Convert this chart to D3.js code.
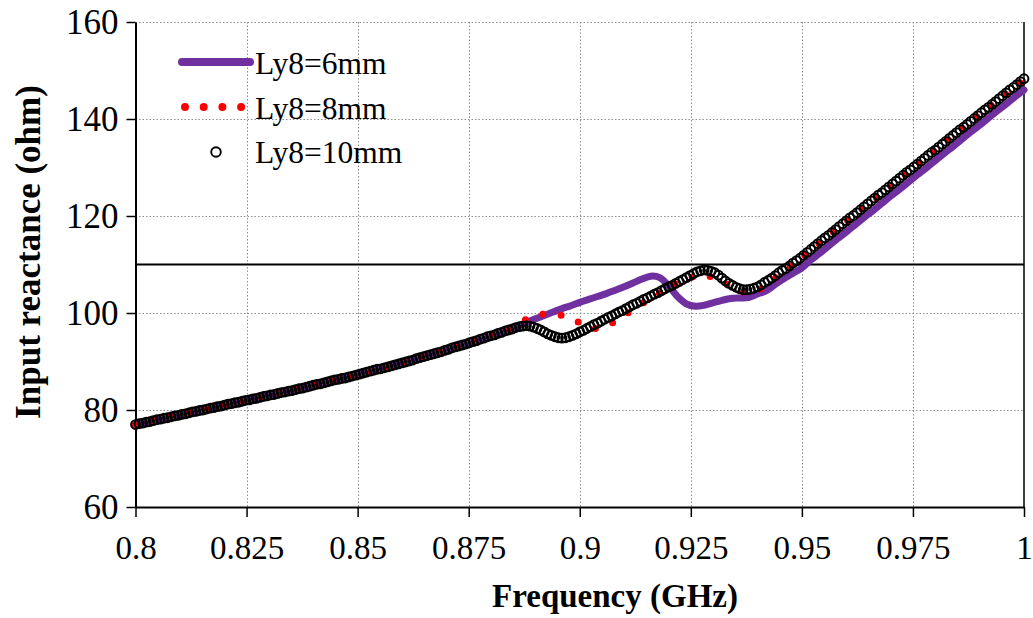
<!DOCTYPE html>
<html>
<head>
<meta charset="utf-8">
<script src="https://cdn.jsdelivr.net/npm/d3@7"></script>
<style>
  body { margin: 0; background: #fff; }
  svg { display: block; }
  text { font-family: "Liberation Serif", "Times New Roman", serif; fill: #000; }
</style>
</head>
<body>
<svg id="chart" width="1033" height="618"></svg>
<script>
// Axis ticks
const xTicks = [0.8, 0.825, 0.85, 0.875, 0.9, 0.925, 0.95, 0.975, 1];
const yTicks = [60, 80, 100, 120, 140, 160];
const refLevel = 110;   // horizontal reference line (ohm)
const seriesNames = ["Ly8=6mm", "Ly8=8mm", "Ly8=10mm"];

// Frequency sweeps (GHz)
const freq10 = d3.range(251).map(i => +(0.8 + i * 0.0008).toFixed(4));
const freq6 = d3.range(101).map(i => +(0.8 + i * 0.002).toFixed(3));
const freq8 = freq6;

// Ly8 = 10 mm, input reactance (ohm), 0.8 MHz step
const react10 = [
  77.0,77.2,77.3,77.5,77.6,77.8,78.0,78.1,78.3,78.4,
  78.6,78.8,78.9,79.1,79.2,79.4,79.6,79.7,79.9,80.0,
  80.2,80.4,80.5,80.7,80.8,81.0,81.2,81.3,81.5,81.6,
  81.8,82.0,82.1,82.3,82.4,82.6,82.8,82.9,83.1,83.2,
  83.4,83.6,83.7,83.9,84.0,84.2,84.4,84.5,84.7,84.9,
  85.1,85.3,85.4,85.6,85.8,86.0,86.2,86.3,86.5,86.6,
  86.8,87.0,87.2,87.4,87.6,87.8,88.0,88.2,88.4,88.5,
  88.7,88.9,89.1,89.3,89.5,89.7,89.9,90.1,90.3,90.6,
  90.8,91.0,91.2,91.4,91.6,91.8,92.0,92.3,92.5,92.8,
  93.0,93.2,93.4,93.6,93.9,94.1,94.3,94.6,94.8,95.1,
  95.3,95.5,95.8,96.0,96.3,96.5,96.7,97.0,97.2,97.3,
  97.4,97.3,97.1,96.8,96.5,96.1,95.7,95.4,95.1,94.9,
  94.8,94.9,95.1,95.4,95.7,96.1,96.4,96.8,97.2,97.6,
  97.9,98.3,98.7,99.1,99.4,99.8,100.2,100.5,100.9,101.3,
  101.7,102.0,102.4,102.8,103.1,103.5,103.9,104.2,104.6,105.0,
  105.4,105.7,106.1,106.5,106.9,107.3,107.7,108.1,108.5,108.7,
  108.9,108.8,108.6,108.3,107.8,107.2,106.6,106.1,105.7,105.3,
  105.0,104.8,104.8,104.9,105.1,105.4,105.8,106.3,106.7,107.2,
  107.7,108.3,108.8,109.2,109.7,110.3,110.8,111.3,111.9,112.5,
  113.1,113.7,114.3,114.9,115.5,116.0,116.6,117.2,117.8,118.4,
  119.0,119.6,120.1,120.7,121.3,121.9,122.5,123.1,123.7,124.3,
  124.8,125.4,126.0,126.6,127.2,127.8,128.4,129.0,129.5,130.1,
  130.7,131.3,131.9,132.5,133.1,133.6,134.2,134.8,135.4,136.0,
  136.6,137.2,137.8,138.3,138.9,139.5,140.1,140.7,141.3,141.9,
  142.4,143.0,143.6,144.2,144.8,145.4,146.0,146.5,147.1,147.7,
  148.3
];

// Ly8 = 6 mm, 2 MHz step
const react6 = [
  77.0,77.4,77.8,78.2,78.6,79.0,79.4,79.8,80.2,80.6,
  81.0,81.4,81.8,82.2,82.6,83.0,83.4,83.8,84.2,84.6,
  85.1,85.5,86.0,86.4,86.8,87.3,87.8,88.3,88.7,89.2,
  89.7,90.2,90.8,91.3,91.8,92.3,92.8,93.4,93.9,94.5,
  95.1,95.7,96.4,97.2,98.1,98.8,99.5,100.2,100.9,101.5,
  102.2,102.8,103.4,104.0,104.7,105.4,106.2,107.0,107.6,107.3,
  105.6,103.4,101.9,101.4,101.6,102.1,102.6,103.0,103.1,103.2,
  103.9,104.6,105.9,107.1,108.2,109.3,110.9,112.3,113.8,115.3,
  116.7,118.2,119.7,121.1,122.6,124.1,125.5,127.0,128.5,129.9,
  131.4,132.9,134.3,135.8,137.3,138.7,140.2,141.7,143.1,144.6,
  146.0
];

// Ly8 = 8 mm, 2 MHz step
const react8 = [
  77.0,77.4,77.8,78.2,78.6,79.0,79.4,79.8,80.2,80.6,
  81.0,81.4,81.8,82.2,82.6,83.0,83.4,83.8,84.2,84.6,
  85.1,85.5,86.0,86.4,86.8,87.3,87.8,88.3,88.7,89.2,
  89.7,90.2,90.8,91.3,91.8,92.4,93.0,93.5,94.1,94.7,
  95.3,95.9,96.5,97.6,98.7,99.4,99.8,99.8,99.5,98.8,
  98.0,97.2,96.8,97.3,98.3,99.5,100.7,101.9,103.0,104.1,
  105.2,106.2,107.0,107.6,107.8,107.3,106.5,105.5,104.6,104.1,
  104.6,105.8,107.2,108.7,110.1,111.5,113.0,114.4,115.9,117.4,
  118.8,120.3,121.8,123.2,124.7,126.2,127.6,129.1,130.6,132.0,
  133.5,135.0,136.4,137.9,139.4,140.8,142.3,143.8,145.2,146.7,
  148.1
];

const colors = { s6: "#7030A0", s8: "#FF0000", s10: "#000000" };

const svg = d3.select("#chart");
const plotLeft = 135.5, plotRight = 1024, plotTop = 22, plotBottom = 507;

const x = d3.scaleLinear().domain([0.8, 1]).range([plotLeft, plotRight]);
const y = d3.scaleLinear().domain([60, 160]).range([plotBottom, plotTop]);

// Dotted grid
const grid = svg.append("g").attr("stroke", "#8c8c8c").attr("stroke-width", 1)
  .attr("stroke-dasharray", "1.5,2");
grid.selectAll("line.v").data(xTicks.filter(t => t > 0.8 && t < 1)).join("line")
  .attr("class", "v")
  .attr("x1", d => Math.round(x(d)) + 0.5).attr("x2", d => Math.round(x(d)) + 0.5)
  .attr("y1", plotTop).attr("y2", plotBottom);
grid.selectAll("line.h").data(yTicks.filter(t => t > 60)).join("line")
  .attr("class", "h")
  .attr("x1", plotLeft).attr("x2", plotRight)
  .attr("y1", d => Math.round(y(d)) + 0.5).attr("y2", d => Math.round(y(d)) + 0.5);

// Right frame edge
svg.append("line")
  .attr("x1", plotRight).attr("x2", plotRight).attr("y1", plotTop).attr("y2", plotBottom)
  .attr("stroke", "#000").attr("stroke-width", 1.5);

// Reference level
svg.append("line")
  .attr("x1", plotLeft).attr("x2", plotRight)
  .attr("y1", y(refLevel)).attr("y2", y(refLevel))
  .attr("stroke", "#000").attr("stroke-width", 2);

// Axes
const yAxis = d3.axisLeft(y).tickValues(yTicks).tickSize(9).tickSizeOuter(0)
  .tickPadding(8).tickFormat(d3.format("d"));
const gy = svg.append("g").attr("transform", `translate(${plotLeft},0)`).call(yAxis);

const xAxis = d3.axisBottom(x).tickValues(xTicks).tickSize(10).tickSizeOuter(0)
  .tickPadding(19).tickFormat(d => String(d));
const gx = svg.append("g").attr("transform", `translate(0,${plotBottom})`).call(xAxis);

[gx, gy].forEach(g => {
  g.select(".domain").attr("stroke", "#000").attr("stroke-width", 2);
  g.selectAll(".tick line").attr("stroke", "#000").attr("stroke-width", 1.5);
});
gy.selectAll(".tick text").attr("font-size", 35);
gx.selectAll(".tick text").attr("font-size", 33);

// Axis titles
svg.append("text")
  .attr("x", 615).attr("y", 607)
  .attr("text-anchor", "middle").attr("font-size", 33).attr("font-weight", "bold")
  .text("Frequency (GHz)");
svg.append("text")
  .attr("transform", "translate(40,252) rotate(-90)")
  .attr("text-anchor", "middle").attr("font-size", 35).attr("font-weight", "bold")
  .text("Input reactance (ohm)");

// Series
const line = d3.line().curve(d3.curveCatmullRom.alpha(0.5))
  .x(d => x(d[0])).y(d => y(d[1]));

const data6 = freq6.map((f, i) => [f, react6[i]]);
const data8 = freq8.map((f, i) => [f, react8[i]]);
const data10 = freq10.map((f, i) => [f, react10[i]]);

svg.append("path").datum(data6)
  .attr("d", line).attr("fill", "none")
  .attr("stroke", colors.s6).attr("stroke-width", 7)
  .attr("stroke-linejoin", "round").attr("stroke-linecap", "round");

svg.append("path").datum(data8)
  .attr("d", line).attr("fill", "none")
  .attr("stroke", colors.s8).attr("stroke-width", 7)
  .attr("stroke-dasharray", "0 18.4").attr("stroke-linecap", "round");

svg.append("g").selectAll("circle").data(data10).join("circle")
  .attr("cx", d => x(d[0])).attr("cy", d => y(d[1]))
  .attr("r", 4.4).attr("fill", "none")
  .attr("stroke", colors.s10).attr("stroke-width", 2);

// Legend
const lg = svg.append("g");
lg.append("line").attr("x1", 182).attr("x2", 250).attr("y1", 62).attr("y2", 62)
  .attr("stroke", colors.s6).attr("stroke-width", 8).attr("stroke-linecap", "round");
lg.append("line").attr("x1", 185).attr("x2", 242).attr("y1", 107).attr("y2", 107)
  .attr("stroke", colors.s8).attr("stroke-width", 8)
  .attr("stroke-dasharray", "0 18.7").attr("stroke-linecap", "round");
lg.append("circle").attr("cx", 216).attr("cy", 152).attr("r", 4.8)
  .attr("fill", "none").attr("stroke", colors.s10).attr("stroke-width", 1.9);
lg.selectAll("text").data(seriesNames).join("text")
  .attr("x", 255).attr("y", (d, i) => 74 + i * 44.5)
  .attr("font-size", 31.5).text(d => d);
</script>
</body>
</html>
